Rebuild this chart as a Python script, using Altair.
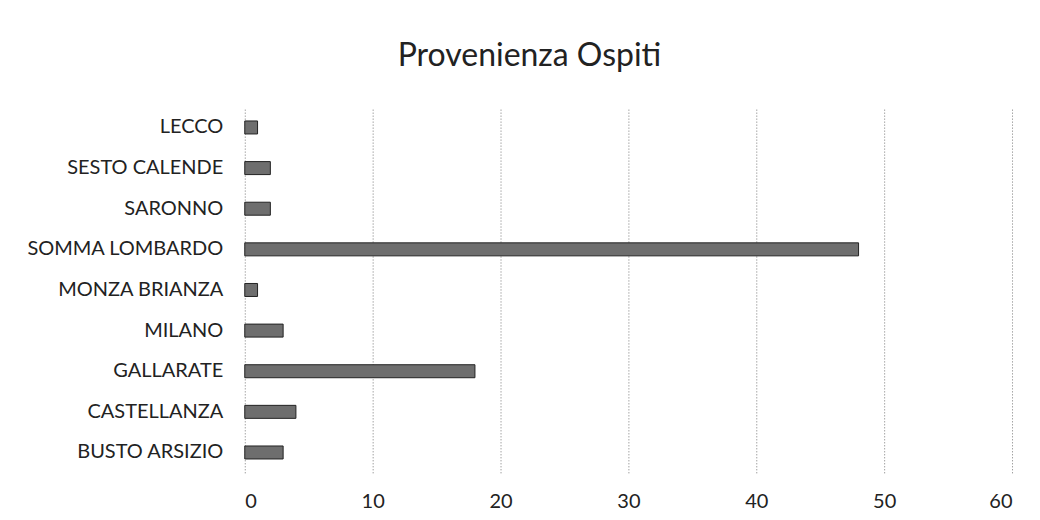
import altair as alt
import pandas as pd

cities = ["LECCO", "SESTO CALENDE", "SARONNO", "SOMMA LOMBARDO", "MONZA BRIANZA",
          "MILANO", "GALLARATE", "CASTELLANZA", "BUSTO ARSIZIO"]
ospiti = [1, 2, 2, 48, 1, 3, 18, 4, 3]
x_ticks = [0, 10, 20, 30, 40, 50, 60]

df = pd.DataFrame({"citta": cities, "ospiti": ospiti})

chart = alt.Chart(df).mark_bar(
    fill="#6e6e6e", stroke="#222222", strokeWidth=1
).encode(
    y=alt.Y("citta:N", sort=cities, title=None,
            scale=alt.Scale(paddingInner=0.68, paddingOuter=0.34),
            axis=alt.Axis(ticks=False, domain=False, labelPadding=22, labelLimit=400,
                          labelFont="Lato", labelFontSize=20, labelColor="#222",
                          grid=False)),
    x=alt.X("ospiti:Q", title=None,
            scale=alt.Scale(domain=[0, 60], nice=False),
            axis=alt.Axis(values=x_ticks, ticks=False, domain=False, labelPadding=19,
                          labelFont="Lato", labelFontSize=20, labelColor="#222",
                          grid=True, gridDash=[1, 2], gridColor="#777",
                          gridWidth=1)),
).properties(
    width=768, height=366,
    title=alt.TitleParams("Provenienza Ospiti", font="Lato", fontSize=32,
                          fontWeight="normal", color="#222", anchor="middle",
                          dx=-99, offset=34),
    autosize=alt.AutoSizeParams(type="none"),
    padding={"left": 237, "top": 99, "right": 20, "bottom": 40},
).configure_view(stroke=None)

chart.save("out.html", embed_options={"renderer": "svg", "actions": False})
